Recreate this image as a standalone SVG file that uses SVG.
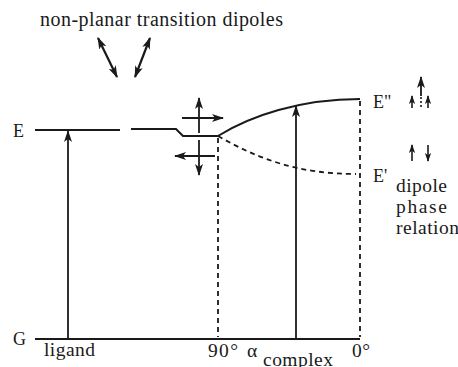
<svg xmlns="http://www.w3.org/2000/svg" width="458" height="367" viewBox="0 0 458 367">
<defs>
<marker id="ah" viewBox="0 0 12 8" refX="11" refY="4" markerWidth="12" markerHeight="8" markerUnits="userSpaceOnUse" orient="auto-start-reverse">
<path d="M0,0 L12,4 L0,8 L3,4 Z" fill="#1a1a1a"/>
</marker>
<marker id="ahs" viewBox="0 0 10 7" refX="9" refY="3.5" markerWidth="9" markerHeight="7" markerUnits="userSpaceOnUse" orient="auto-start-reverse">
<path d="M0,0 L10,3.5 L0,7 L2.5,3.5 Z" fill="#1a1a1a"/>
</marker>
</defs>
<style>
.ln{stroke:#1a1a1a;stroke-width:2;fill:none}
.ar{stroke:#1a1a1a;stroke-width:1.8;fill:none;marker-end:url(#ah)}
.dar{stroke:#1a1a1a;stroke-width:2.2;fill:none;marker-end:url(#ah);marker-start:url(#ah)}
.sar{stroke:#1a1a1a;stroke-width:1.6;fill:none;marker-end:url(#ahs)}
.dash{stroke:#1a1a1a;stroke-width:1.8;fill:none;stroke-dasharray:5,4}
.dot{stroke:#1a1a1a;stroke-width:1.6;fill:none;stroke-dasharray:2,2}
</style>
<rect width="458" height="367" fill="#fff"/>
<g font-family="'Liberation Serif', 'Times New Roman', 'DejaVu Serif', serif" font-size="19.5" fill="#1a1a1a">
<g id="title"><text x="40" y="26" font-size="20" textLength="243">non-planar transition dipoles</text></g>
<g id="nonplanar-dipoles">
<line class="dar" x1="98" y1="38" x2="117" y2="77"/>
<line class="dar" x1="150" y1="38" x2="135" y2="77"/>
</g>
<g id="levels">
<text x="13" y="137" font-size="18">E</text>
<text x="13" y="345" font-size="18">G</text>
<line class="ln" x1="35" y1="130" x2="120" y2="130"/>
<polyline class="ln" points="131,129 176,129 183,136 218,136"/>
<path class="ln" d="M218,136 C250,116 300,99 360,99"/>
<path class="dash" d="M218,136 C260,160 300,174 356,174"/>
<line class="ln" x1="35" y1="339" x2="360" y2="339"/>
<text x="373" y="108" font-size="18">E"</text>
<text x="373" y="182" font-size="18">E'</text>
</g>
<g id="verticals">
<line class="dash" x1="218" y1="138" x2="218" y2="337"/>
<line class="dash" x1="360" y1="101" x2="360" y2="337"/>
</g>
<g id="connectors">
<line class="ar" x1="68" y1="339" x2="68" y2="131"/>
<line class="ar" x1="296" y1="339" x2="296" y2="106"/>
</g>
<g id="perp-dipoles">
<line class="ar" x1="199" y1="133" x2="199" y2="98"/>
<line class="ar" x1="182" y1="118" x2="223" y2="118"/>
<line class="ar" x1="199" y1="140" x2="199" y2="175"/>
<line class="ar" x1="215" y1="156" x2="175" y2="156"/>
</g>
<g id="phase-arrows">
<line class="ar" x1="421" y1="96" x2="421" y2="77"/>
<line class="dot" x1="421" y1="97" x2="421" y2="108"/>
<line class="sar" x1="412" y1="108" x2="412" y2="96"/>
<line class="sar" x1="428" y1="108" x2="428" y2="96"/>
<line class="sar" x1="412" y1="161" x2="412" y2="145"/>
<line class="sar" x1="428" y1="145" x2="428" y2="161"/>
</g>
<g id="labels">
<text x="396" y="192" textLength="51">dipole</text>
<text x="396" y="213" textLength="51">phase</text>
<text x="396" y="234" textLength="63">relation</text>
<text x="44" y="356" textLength="51">ligand</text>
<text x="208" y="357" textLength="30">90°</text>
<text x="247" y="357">α</text>
<text x="263" y="366" textLength="70">complex</text>
<text x="352" y="357" textLength="18">0°</text>
</g>
</g>
</svg>
